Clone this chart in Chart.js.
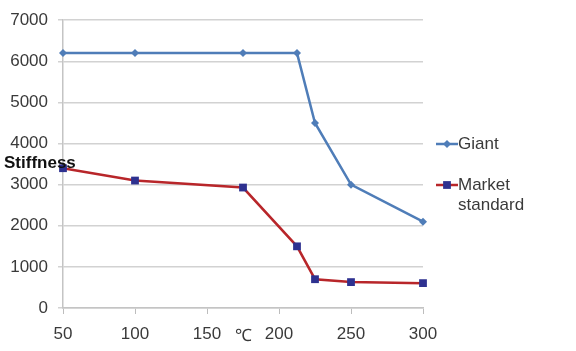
<!DOCTYPE html>
<html>
<head>
<meta charset="utf-8">
<script src="https://cdn.jsdelivr.net/npm/chart.js@4"></script>
<style>
  html, body { margin: 0; padding: 0; background: #ffffff; }
  #wrap { width: 576px; height: 351px; position: relative; }
</style>
</head>
<body>
<div id="wrap"><canvas id="c" width="576" height="351"></canvas></div>
<script>
const temperatures = [50, 100, 175, 212.5, 225, 250, 300];
const giantStiffness = [6200, 6200, 6200, 6200, 4500, 3000, 2100];
const marketStiffness = [3400, 3100, 2930, 1500, 700, 630, 605];
const seriesNames = ['Giant', 'Market standard'];
const yAxisTitle = 'Stiffness';
const xAxisTitle = '℃';

const FONT = '"Liberation Sans", Arial, sans-serif';
const TEXT = '#3a3a3a';
const GIANT_COLOR = '#4f7db8';
const MARKET_LINE = '#b8262a';
const MARKET_POINT = '#2e3190';

const toPoints = (xs, ys) => xs.map((x, i) => ({ x: x, y: ys[i] }));

const extraText = {
  id: 'extraText',
  afterDraw(chart) {
    const ctx = chart.ctx;
    const ca = chart.chartArea;
    const xs = chart.scales.x;
    ctx.save();
    // y axis title
    ctx.font = 'bold 17px ' + FONT;
    ctx.fillStyle = '#111';
    ctx.textAlign = 'left';
    ctx.textBaseline = 'middle';
    ctx.fillText(yAxisTitle, 4, 163);
    // x axis unit
    ctx.font = '17px ' + FONT;
    ctx.fillStyle = TEXT;
    ctx.textAlign = 'center';
    ctx.fillText(xAxisTitle, xs.getPixelForValue(175), 336);
    // legend
    const lx = ca.right + 13;
    const items = [
      { lines: [seriesNames[0]], y: 144, line: GIANT_COLOR, pt: GIANT_COLOR, style: 'rectRot', r: 4 },
      { lines: ['Market', 'standard'], y: 185, line: MARKET_LINE, pt: MARKET_POINT, style: 'rect', r: 5.5 }
    ];
    items.forEach(it => {
      ctx.strokeStyle = it.line;
      ctx.lineWidth = 2.5;
      ctx.beginPath();
      ctx.moveTo(lx, it.y);
      ctx.lineTo(lx + 22, it.y);
      ctx.stroke();
      ctx.fillStyle = it.pt;
      Chart.helpers.drawPoint(ctx, { pointStyle: it.style, radius: it.r, borderWidth: 0, rotation: 0 }, lx + 11, it.y);
      ctx.fillStyle = TEXT;
      ctx.font = '17px ' + FONT;
      ctx.textAlign = 'left';
      ctx.textBaseline = 'middle';
      it.lines.forEach((t, i) => ctx.fillText(t, lx + 22, it.y + i * 20));
    });
    ctx.restore();
  }
};

new Chart(document.getElementById('c'), {
  type: 'line',
  data: {
    datasets: [
      {
        label: seriesNames[0],
        data: toPoints(temperatures, giantStiffness),
        borderColor: GIANT_COLOR,
        backgroundColor: GIANT_COLOR,
        borderWidth: 2.5,
        pointStyle: 'rectRot',
        pointRadius: 4,
        pointBorderWidth: 0,
        tension: 0,
        clip: false
      },
      {
        label: seriesNames[1],
        data: toPoints(temperatures, marketStiffness),
        borderColor: MARKET_LINE,
        backgroundColor: MARKET_POINT,
        borderWidth: 2.5,
        pointStyle: 'rect',
        pointRadius: 5.5,
        pointBorderWidth: 0,
        tension: 0,
        clip: false
      }
    ]
  },
  options: {
    responsive: false,
    animation: false,
    devicePixelRatio: 1,
    layout: { padding: { top: 19, right: 153, left: 0, bottom: 0 } },
    plugins: { legend: { display: false }, tooltip: { enabled: false } },
    scales: {
      x: {
        type: 'linear',
        min: 50,
        max: 300,
        ticks: { stepSize: 50, color: TEXT, font: { family: FONT, size: 17 }, padding: 10, maxRotation: 0,
                 callback: v => String(v) },
        grid: { drawOnChartArea: false, drawTicks: true, tickLength: 6, color: '#bdbdbd', lineWidth: 1 },
        border: { display: true, color: '#c4c4c4', width: 1.5 },
        afterFit(s) { s.height = 43; }
      },
      y: {
        min: 0,
        max: 7000,
        ticks: { stepSize: 1000, color: TEXT, font: { family: FONT, size: 17 }, padding: 10,
                 callback: v => String(v) },
        grid: { color: '#d2d2d2', lineWidth: 1.5, tickLength: 5 },
        border: { display: true, color: '#c4c4c4', width: 1.5 },
        afterFit(s) { s.width = 63; }
      }
    }
  },
  plugins: [extraText]
});
</script>
</body>
</html>
